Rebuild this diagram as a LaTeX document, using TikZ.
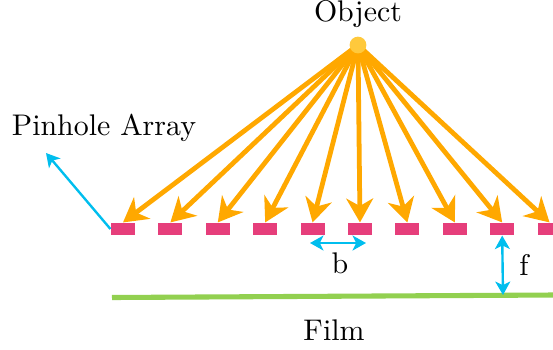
\documentclass[tikz,border=0pt]{standalone}
\usetikzlibrary{arrows.meta, backgrounds}

\definecolor{rayorange}{HTML}{FFA800}
\definecolor{dotorange}{HTML}{FFC93C}
\definecolor{holepink}{HTML}{E63E7B}
\definecolor{dimcyan}{HTML}{00BEEE}
\definecolor{filmgreen}{HTML}{92D050}

\begin{document}
\begin{tikzpicture}[
  x=0.01176cm, y=-0.01176cm,
  dimtip/.tip={Stealth[length=4.5pt, width=5pt, inset=1.2pt]},
  hole/.style={fill=holepink, minimum width=8pt, minimum height=4pt, inner sep=0pt},
  ray/.style={-{Stealth[length=8pt, width=9pt, inset=2.5pt]}, line width=1.6pt, draw=rayorange},
  dim/.style={line width=0.8pt, draw=dimcyan},
  film/.style={line width=1.7pt, draw=filmgreen},
]
\useasboundingbox (0,0) rectangle (553,349);
% ---- object point ----
\node[circle, fill=dotorange, minimum size=5.6pt, inner sep=0pt] (obj) at (358,45) {};
\node (objlbl) at (358,14) {Object};
% ---- pinhole array ----
\foreach \i in {1,...,10}
  \node[hole] (p\i) at ({123+47.4*(\i-1)},229) {};
\node (arrlbl) at (104,128) {Pinhole Array};
\coordinate (arrtip) at (46,153);
\draw[dim, -dimtip] (p1.west) -- (arrtip);
% ---- rays ----
\begin{scope}[on background layer]
  \foreach \i in {1,...,10}
    \draw[ray] (obj.center) -- (p\i.north);
\end{scope}
% ---- spacing b ----
\coordinate (bl) at (310,243);
\coordinate (br) at (366,243);
\draw[dim, dimtip-dimtip] (bl) -- (br);
\node (blbl) at (340,263) {b};
% ---- film and focal distance ----
\coordinate (filmL) at (112,297.5);
\coordinate (filmR) at (553,295);
\draw[film] (filmL) -- (filmR);
\coordinate (fbot) at (503,295);
\draw[dim, dimtip-dimtip] (p9.south) -- (fbot);
\node (flbl) at (524,265) {f};
\node (filmlbl) at (334,330) {Film};
\end{tikzpicture}
\end{document}
